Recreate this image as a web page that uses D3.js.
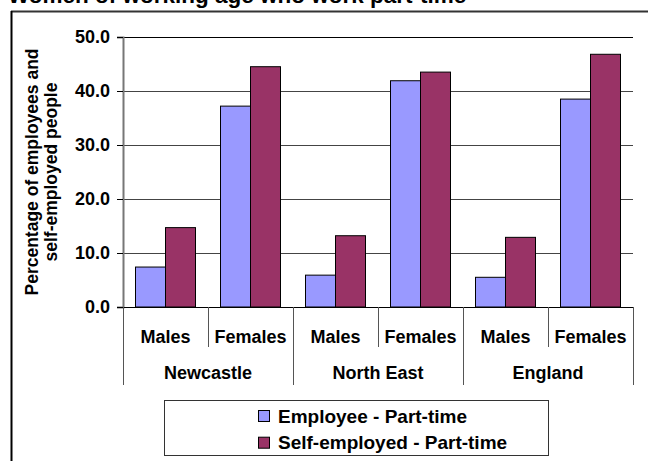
<!DOCTYPE html>
<html><head><meta charset="utf-8">
<script src="https://cdn.jsdelivr.net/npm/d3@7"></script>
<style>
html,body{margin:0;padding:0;background:#fff;}
svg{display:block;font-family:"Liberation Sans",Arial,sans-serif;font-weight:bold;}
</style></head>
<body>
<script>
const title = "Women of working age who work part-time";
const regions = ["Newcastle", "North East", "England"];
const sexes = ["Males", "Females"];
const seriesNames = ["Employee - Part-time", "Self-employed - Part-time"];
const seriesColors = ["#9999FF", "#993366"];
const employee = [7.4, 37.2, 5.9, 41.9, 5.5, 38.5];
const selfEmployed = [14.7, 44.5, 13.2, 43.5, 12.9, 46.8];
const yTicks = [0, 10, 20, 30, 40, 50];
const yTitle = ["Percentage of employees and", "self-employed people"];

(function () {
const W = 648, H = 461;
const svg = d3.select("body").append("svg").attr("width", W).attr("height", H);

const cats = [];
regions.forEach(r => sexes.forEach(s => cats.push(r + "|" + s)));
const series = [employee, selfEmployed];

const pL = 123, pR = 633, pT = 37, pB = 307;
const x = d3.scaleBand().domain(cats).range([pL, pR]).padding(0);
const xs = d3.scaleBand().domain([0, 1]).range([0, x.bandwidth()]).paddingInner(0).paddingOuter(0.4167);
const y = d3.scaleLinear().domain([0, 50]).range([pB, pT]);

// title (clipped at top)
svg.append("text").attr("x", 8).attr("y", 3).attr("font-size", 22.5).attr("fill", "#000").text(title);

// frame
svg.append("line").attr("x1", 11).attr("x2", W).attr("y1", 11.5).attr("y2", 11.5).attr("stroke", "#333").attr("stroke-width", 2);
svg.append("line").attr("x1", 11.5).attr("x2", 11.5).attr("y1", 11).attr("y2", H).attr("stroke", "#000").attr("stroke-width", 2);

// gridlines
svg.append("g").selectAll("line").data(yTicks.filter(d => d > 0)).join("line")
  .attr("x1", pL).attr("x2", pR)
  .attr("y1", d => Math.round(y(d)) + 0.5).attr("y2", d => Math.round(y(d)) + 0.5)
  .attr("stroke", d => d === 50 ? "#000" : "#444").attr("stroke-width", 1);

// bars
const barG = svg.append("g");
series.forEach((vals, si) => {
  barG.selectAll(".s" + si).data(vals).join("rect")
    .attr("class", "s" + si)
    .attr("x", (d, i) => x(cats[i]) + xs(si))
    .attr("y", d => y(d))
    .attr("width", xs.bandwidth())
    .attr("height", d => y(0) - y(d))
    .attr("fill", seriesColors[si])
    .attr("stroke", "#000").attr("stroke-width", 1);
});

// y axis
const yAxis = d3.axisLeft(y).tickValues(yTicks).tickFormat(d3.format(".1f")).tickSize(6).tickPadding(7);
const yg = svg.append("g").attr("transform", `translate(${pL},0)`).call(yAxis);
yg.select(".domain").attr("stroke", "#777").attr("stroke-width", 2);
yg.selectAll(".tick line").attr("stroke", "#000");
yg.selectAll(".tick text").attr("font-size", 18).attr("font-weight", "bold").attr("font-family", "Liberation Sans, Arial, sans-serif").attr("fill", "#000");

// y title
const yt = svg.append("text").attr("transform", `translate(40,${(pT + pB) / 2}) rotate(-90)`)
  .attr("text-anchor", "middle").attr("font-size", 17.5).attr("fill", "#000");
yt.append("tspan").attr("x", 0).attr("y", -2).text(yTitle[0]);
yt.append("tspan").attr("x", 0).attr("y", 16.5).text(yTitle[1]);

// x axis line
svg.append("line").attr("x1", pL - 6).attr("x2", pR).attr("y1", pB + 0.5).attr("y2", pB + 0.5).attr("stroke", "#000").attr("stroke-width", 1);

// category separators
const bounds = d3.range(cats.length + 1).map(i => pL + i * x.bandwidth());
svg.append("g").selectAll("line").data(bounds).join("line")
  .attr("x1", d => Math.round(d) + 0.5).attr("x2", d => Math.round(d) + 0.5)
  .attr("y1", pB).attr("y2", (d, i) => i % 2 === 0 ? 385 : 347)
  .attr("stroke", "#555").attr("stroke-width", 1);

// sub labels
svg.append("g").selectAll("text").data(cats).join("text")
  .attr("x", d => x(d) + x.bandwidth() / 2).attr("y", 343)
  .attr("text-anchor", "middle").attr("font-size", 18).attr("fill", "#000")
  .text(d => d.split("|")[1]);

// region labels
svg.append("g").selectAll("text").data(regions).join("text")
  .attr("x", (d, i) => pL + (i * 2 + 1) * x.bandwidth()).attr("y", 379)
  .attr("text-anchor", "middle").attr("font-size", 18).attr("fill", "#000")
  .text(d => d);

// legend
const lg = svg.append("g");
lg.append("rect").attr("x", 164.5).attr("y", 400.5).attr("width", 384).attr("height", 55)
  .attr("fill", "#fff").attr("stroke", "#333").attr("stroke-width", 1);
seriesNames.forEach((n, i) => {
  const cy = 416 + i * 26.7;
  lg.append("rect").attr("x", 258.5).attr("y", cy - 5.5).attr("width", 11).attr("height", 11)
    .attr("fill", seriesColors[i]).attr("stroke", "#000").attr("stroke-width", 1);
  lg.append("text").attr("x", 278).attr("y", cy + 6.5).attr("font-size", 19).attr("fill", "#000").text(n);
});
})();
</script>
</body></html>
